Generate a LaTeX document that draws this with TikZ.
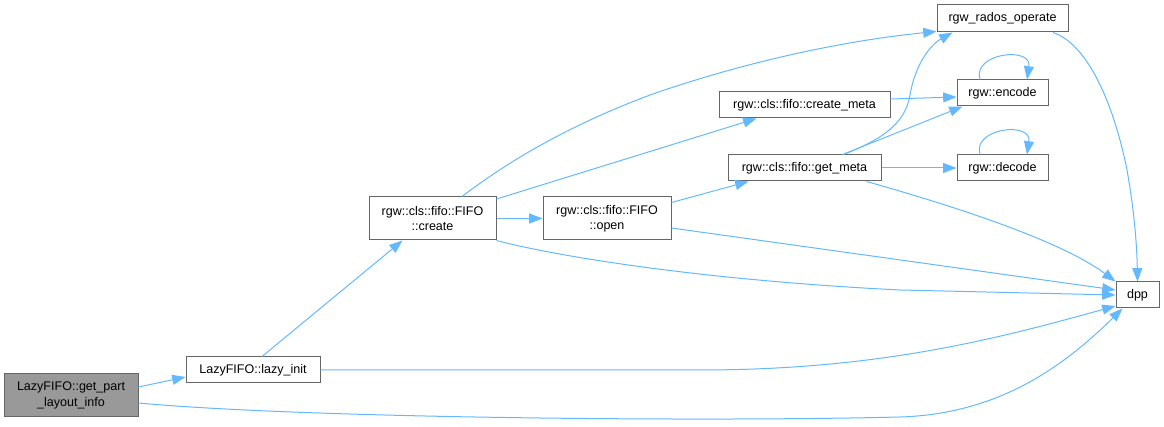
\documentclass[tikz,border=0pt]{standalone}
\usepackage{fontspec}
\setmainfont{Liberation Sans}
\usetikzlibrary{arrows.meta,calc}
\definecolor{edgecol}{HTML}{63B8FF}
\definecolor{boxcol}{HTML}{666666}
\definecolor{rootfill}{HTML}{999999}
\begin{document}
\begin{tikzpicture}[x=0.75pt,y=-0.75pt,
  fn/.style={draw=boxcol,line width=0.75pt,fill=white,inner sep=0pt,align=center,
    font=\fontsize{9.4pt}{11.4pt}\selectfont,minimum height=19.5pt},
  fn2/.style={fn,minimum height=32.25pt},
  e/.style={draw=edgecol,line width=0.75pt,-{Triangle[length=10pt,width=7.5pt]}}]
\useasboundingbox (0,0) rectangle (1164,427);
% nodes
\node[fn2,fill=rootfill,minimum width=100.5pt] (gp) at (71,395.5) {LazyFIFO::get\_part\\\_layout\_info};
\node[fn,minimum width=100.5pt] (li) at (253,370) {LazyFIFO::lazy\_init};
\node[fn2,minimum width=95.25pt] (cr) at (432.5,218.5) {rgw::cls::fifo::FIFO\\::create};
\node[fn2,minimum width=96pt] (op) at (607,218.5) {rgw::cls::fifo::FIFO\\::open};
\node[fn,minimum width=128.25pt] (cm) at (804.5,105) {rgw::cls::fifo::create\_meta};
\node[fn,minimum width=114.75pt] (gm) at (804.5,168) {rgw::cls::fifo::get\_meta};
\node[fn,minimum width=98.25pt,minimum height=20.25pt] (ro) at (1002.5,18.5) {rgw\_rados\_operate};
\node[fn,minimum width=68.25pt] (en) at (1002.5,93) {rgw::encode};
\node[fn,minimum width=68.25pt] (de) at (1002.5,168) {rgw::decode};
\node[fn,minimum width=32.25pt] (dpp) at (1137.5,295) {dpp};
% edges
\draw[e] ($(gp.east)+(0,-8.5)$) -- ($(li.west)+(0,7)$);
\draw[e] ($(gp.east)+(0,7.5)$) .. controls (300,418) and (700,422) .. (900,417)
   .. controls (1000,414) and (1065,365) .. ($(dpp.south west)+(7,0)$);
\draw[e] ($(li.north)+(9,0)$) -- ($(cr.south)+(-30,0)$);
\draw[e] (li.east) -- (700,370) .. controls (880,370) and (1000,338) .. ($(dpp.west)+(0,11)$);
\draw[e] ($(cr.north)+(29.5,0)$) .. controls (510,160) and (570,125) .. (650,95)
   .. controls (750,60) and (850,40) .. ($(ro.south west)+(0,-1)$);
\draw[e] ($(cr.north east)+(0,2.5)$) -- ($(cm.south west)+(38,0)$);
\draw[e] (cr.east) -- (op.west);
\draw[e] (cr.south east) .. controls (555,256) and (700,280) .. (900,290) -- (dpp.west);
\draw[e] ($(op.north east)+(0,6)$) -- ($(gm.south west)+(21,0)$);
\draw[e] ($(op.east)+(0,9.5)$) -- ($(dpp.west)+(0,-5)$);
\draw[e] ($(gm.north)+(39,0)$) .. controls (880,140) and (905,125) .. (910,95)
   .. controls (915,65) and (930,45) .. ($(ro.south west)+(16,0)$);
\draw[e] ($(gm.north)+(38,0)$) -- ($(en.south west)+(6,0)$);
\draw[e] (gm.east) -- (de.west);
\draw[e] ($(gm.south)+(62,0)$) .. controls (950,205) and (1060,240) .. (dpp.north west);
\draw[e] ($(cm.east)+(0,-6)$) -- ($(en.west)+(0,4)$);
\draw[e] ($(en.north)+(-22.5,0)$) .. controls (972,53) and (1032,46) .. ($(en.north)+(24.5,0)$);
\draw[e] ($(de.north)+(-22.5,0)$) .. controls (972,128) and (1032,121) .. ($(de.north)+(24.5,0)$);
\draw[e] ($(ro.south)+(50.5,0)$) .. controls (1090,45) and (1115,110) .. (1127,170)
   .. controls (1135,215) and (1137,250) .. (dpp.north);
\end{tikzpicture}
\end{document}
